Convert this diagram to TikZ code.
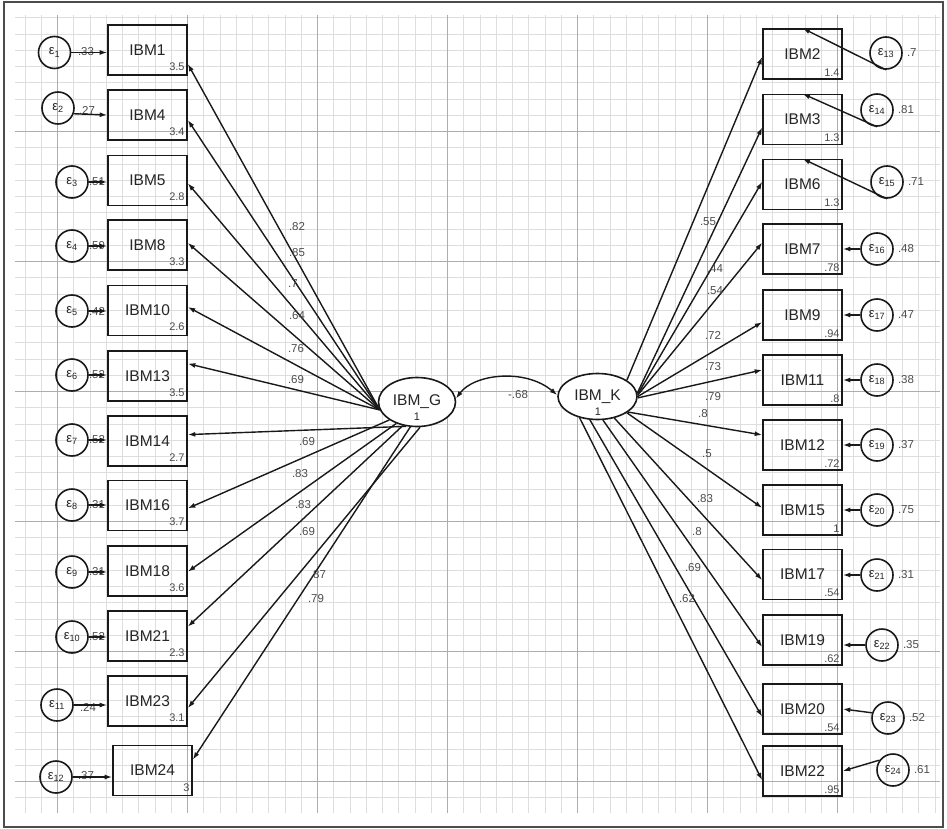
\documentclass[tikz,border=0pt]{standalone}
\usepackage{fontspec}
\setmainfont{Liberation Sans}
\usetikzlibrary{shapes.geometric,arrows.meta}
\begin{document}
\begin{tikzpicture}[x=1pt,y=-1pt,
  obs/.style={draw=black!90, line width=1.6pt, minimum width=79pt, minimum height=50pt, inner sep=0pt, font=\fontsize{15.5}{16}\selectfont, text=black!85},
  lat/.style={ellipse, draw=black!90, fill=white, line width=1.6pt, inner sep=0pt, font=\fontsize{15.5}{16}\selectfont, text=black!85},
  err/.style={circle, draw=black!90, line width=1.6pt, minimum size=32pt, inner sep=0pt, font=\fontsize{13}{13}\selectfont, text=black!85},
  pth/.style={-{Latex[length=7.5pt,width=5pt]}, line width=1.4pt, draw=black!90},
  num/.style={font=\fontsize{11}{11}\selectfont, text=black!70, inner sep=0pt},
  lab/.style={font=\fontsize{11.5}{12}\selectfont, text=black!70, inner sep=0pt},
  minor/.style={draw=black!13, line width=0.7pt},
  major/.style={draw=black!32, line width=1pt},
]
\useasboundingbox (0,0) rectangle (947,829);
\fill[white] (0,0) rectangle (947,829);
% grid
\foreach \n in {-2,...,54} \draw[minor] ({57.5+16.25*\n},15) -- ({57.5+16.25*\n},813);
\foreach \m in {-7,...,41} \draw[minor] (15,{131.5+16.25*\m}) -- (940,{131.5+16.25*\m});
\foreach \n in {0,...,6} \draw[major] ({57.5+130*\n},15) -- ({57.5+130*\n},813);
\foreach \m in {0,...,5} \draw[major] (15,{131.5+130*\m}) -- (940,{131.5+130*\m});
\draw[black!70, line width=1.4pt] (4,2) rectangle (943,827);

% left observed
\foreach \nm/\t/\y/\v in {L1/IBM1/50/3.5, L2/IBM4/115/3.4, L3/IBM5/180.5/2.8, L4/IBM8/245/3.3,
  L5/IBM10/310.5/2.6, L6/IBM13/376/3.5, L7/IBM14/441/2.7, L8/IBM16/505.5/3.7,
  L9/IBM18/571/3.6, L10/IBM21/636/2.3, L11/IBM23/701/3.1} {
  \node[obs] (\nm) at (147.5,\y) {\t};
  \node[num, anchor=south east] (\nm n) at ([xshift=-3pt,yshift=5pt]\nm.south east) {\v};
}
\node[obs] (L12) at (152.5,770.5) {IBM24};
\node[num, anchor=south east] (L12n) at ([xshift=-3pt,yshift=5pt]L12.south east) {3};

% right observed
\foreach \nm/\t/\y/\v in {R1/IBM2/54/1.4, R2/IBM3/119.5/1.3, R3/IBM6/184.5/1.3, R4/IBM7/249/.78,
  R5/IBM9/315/.94, R6/IBM11/380/.8, R7/IBM12/445/.72, R8/IBM15/510/1,
  R9/IBM17/574.5/.54, R10/IBM19/640/.62, R11/IBM20/709/.54, R12/IBM22/771/.95} {
  \node[obs] (\nm) at (802.5,\y) {\t};
  \node[num, anchor=south east] (\nm n) at ([xshift=-3pt,yshift=3pt]\nm.south east) {\v};
}

% latent
\node[lat, minimum width=77pt, minimum height=49pt] (G) at (417,402) {IBM\_G};
\node[num, text=black!85] (G1) at (417,417) {1};
\node[lat, minimum width=79pt, minimum height=46pt] (K) at (597.5,396.5) {IBM\_K};
\node[num, text=black!85] (K1) at (598,412) {1};

% left errors
\foreach \nm/\x/\y/\s in {E1/54.5/52.5/1, E2/58/108/2, E3/72/182/3, E4/72/246/4, E5/72/311/5,
  E6/72/375/6, E7/72/440/7, E8/72/505/8, E9/72/572/9, E10/72/637/10, E11/57/705/11, E12/56/777/12} {
  \node[err] (\nm) at (\x,\y) {ε\textsubscript{\s}};
}
% right errors
\foreach \nm/\x/\y/\s in {E13/886/53/13, E14/877/110/14, E15/887/182/15, E16/877/249/16,
  E17/877/315/17, E18/877/380/18, E19/877/445/19, E20/877/510/20, E21/877/575/21,
  E22/882/645/22, E23/888/718/23, E24/893/770/24} {
  \node[err] (\nm) at (\x,\y) {ε\textsubscript{\s}};
}

% left error labels (under arrows)
\node[lab] (e1l) at (86,52) {.33};
\node[lab] (e2l) at (87,110) {.27};
\foreach \nm/\y/\v in {e3l/182/.51, e4l/246/.59, e5l/311/.42, e6l/375/.52, e7l/440/.52,
  e8l/505/.31, e9l/572/.31, e10l/637/.52} {
  \node[lab] (\nm) at (97,\y) {\v};
}
\node[lab] (e11l) at (88,707) {.24};
\node[lab] (e12l) at (86,776) {.37};

% left error paths
\draw[pth] (E1) -- (L1.west |- E1);
\draw[pth] (E2.-20) -- (L2.west);
\foreach \e/\b in {E3/L3, E4/L4, E5/L5, E6/L6, E7/L7, E8/L8, E9/L9, E10/L10, E11/L11, E12/L12} {
  \draw[pth] (\e) -- (\b.west |- \e);
}

% right error paths
\draw[pth] (E13.south) -- (R1.north);
\draw[pth] (E14.south) -- (R2.north);
\draw[pth] (E15.south) -- (R3.north);
\foreach \e/\b in {E16/R4, E17/R5, E18/R6, E19/R7, E20/R8, E21/R9, E22/R10} {
  \draw[pth] (\e) -- (\b.east |- \e);
}
\draw[pth] (E23.162) -- (R11.east);
\draw[pth] (E24.144) -- (R12.east);

% right error labels
\foreach \e/\v in {E13/.7, E14/.81, E15/.71, E16/.48, E17/.47, E18/.38, E19/.37, E20/.75,
  E21/.31, E22/.35, E23/.52, E24/.61} {
  \node[lab, anchor=west] (\e l) at ([xshift=4pt]\e.east) {\v};
}

% loadings IBM_G
\draw[pth] (G.191) -- (L1.-19);
\draw[pth] (G.191) -- (L2.-7);
\draw[pth] (G.191) -- (L3.-4);
\draw[pth] (G.192) -- (L4.3);
\draw[pth] (G.192) -- (L5.5);
\draw[pth] (G.192) -- (L6.17);
\draw[pth] (G.246) -- (L7.9);
\draw[pth] (G.213) -- (L8.-4);
\draw[pth] (G.226) -- (L9.-1);
\draw[pth] (G.239) -- (L10.13);
\draw[pth] (G.277) -- (L11.-10);
\draw[pth] (G.255) -- (L12.15);

% loadings IBM_K
\draw[pth] (K.29) -- (R1.184);
\draw[pth] (K.5) -- (R2.191);
\draw[pth] (K.3) -- (R3.176);
\draw[pth] (K.2) -- (R4.171);
\draw[pth] (K.0) -- (R5.190);
\draw[pth] (K.-2) -- (R6.166);
\draw[pth] (K.333) -- (R7.166);
\draw[pth] (K.331) -- (R8.177);
\draw[pth] (K.308) -- (R9.188);
\draw[pth] (K.283) -- (R10.190);
\draw[pth] (K.252) -- (R11.191.5);
\draw[pth] (K.230) -- (R12.193);

% covariance
\draw[{Latex[length=7.5pt,width=5pt]}-{Latex[length=7.5pt,width=5pt]}, line width=1.4pt, black!90]
  (G.5) .. controls (474,374) and (525,368) .. (K.178);
\node[lab] (cov) at (518,395) {-.68};

% loading labels left
\foreach \nm/\x/\y/\v in {g1/297/227/.82, g2/297/253/.85, g3/293/284/.7, g4/297/316/.64,
  g5/296/349/.76, g6/296/380/.69, g7/307/442/.69, g8/300/474/.83, g9/303/505/.83,
  g10/307/532/.69, g11/318/575/.87, g12/316/599/.79} {
  \node[lab] (\nm) at (\x,\y) {\v};
}
% loading labels right
\foreach \nm/\x/\y/\v in {k1/708/222/.55, k2/715/269/.44, k3/715/291/.54, k4/713/335/.72,
  k5/713/367/.73, k6/713/397/.79, k7/703/414/.8, k8/707/454/.5, k9/705/499/.83,
  k10/697/532/.8, k11/693/568/.69, k12/687/599/.62} {
  \node[lab] (\nm) at (\x,\y) {\v};
}
\end{tikzpicture}
\end{document}
